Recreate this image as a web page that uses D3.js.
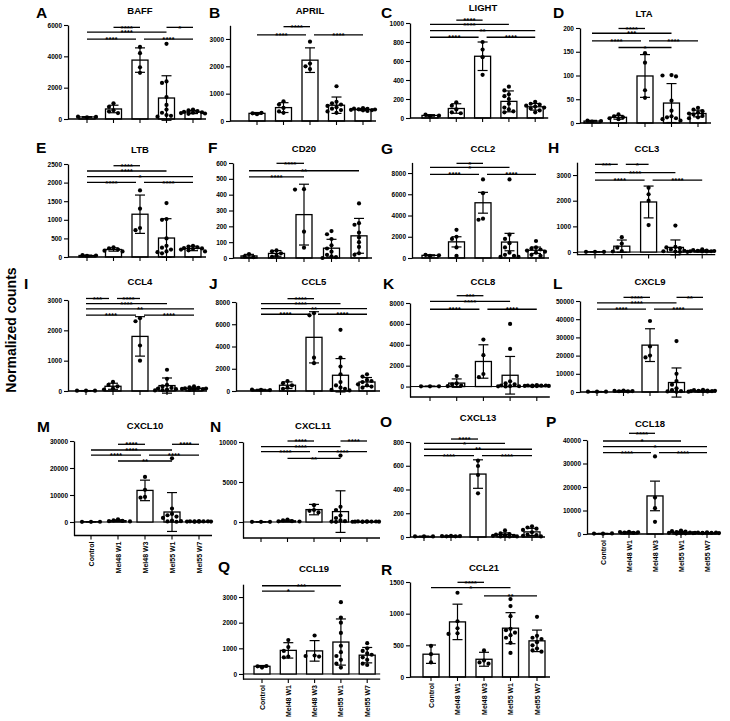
<!DOCTYPE html>
<html><head><meta charset="utf-8">
<script src="https://cdn.jsdelivr.net/npm/d3@7"></script>
<style>
body{margin:0;background:#fff}
text{font-family:"Liberation Sans",Arial,sans-serif;font-weight:bold;fill:#000}
</style>
</head><body><svg id="c" width="730" height="721"></svg>
<script>
// ---------------- DATA ----------------
const groups = ["Control","Mel48 W1","Mel48 W3","Mel55 W1","Mel55 W7"];
const panelLetters = ["A","B","C","D","E","F","G","H","I","J","K","L","M","N","O","P","Q","R"];
const geneNames = ["BAFF","APRIL","LIGHT","LTA","LTB","CD20","CCL2","CCL3","CCL4","CCL5","CCL8","CXCL9","CXCL10","CXCL11","CXCL13","CCL18","CCL19","CCL21"];

const yDomains = [
 [0,6000],[0,3500],[0,1000],[0,200],
 [0,2500],[0,600],[0,9000],[-100,3500],
 [0,3000],[0,8000],[-1000,8000],[0,50000],
 [-5000,30000],[-2000,10000],[0,800],[0,40000],
 [-200,3500],[0,1500]
];
const yTicks = [
 [0,2000,4000,6000],[0,1000,2000,3000],[0,200,400,600,800,1000],[0,50,100,150,200],
 [0,500,1000,1500,2000,2500],[0,100,200,300,400,500,600],[0,2000,4000,6000,8000],[0,1000,2000,3000],
 [0,1000,2000,3000],[0,2000,4000,6000,8000],[0,2000,4000,6000,8000],[0,10000,20000,30000,40000,50000],
 [0,10000,20000,30000],[0,5000,10000],[0,200,400,600,800],[0,10000,20000,30000,40000],
 [0,1000,2000,3000],[0,500,1000,1500]
];
const barMeans = [
 [130,640,3760,1340,445],[280,490,2225,577,420],[27,100,650,175,118],[4,12,99,42,20],
 [40,202,1150,510,230],[13,29,274,62,140],[250,1520,5200,1500,730],[10,228,1950,180,50],
 [10,156,1800,179,84],[100,520,4825,1415,811],[20,330,2400,1081,80],[200,520,25750,5210,667],
 [100,500,11700,3700,200],[20,150,1550,1300,50],[5,8,530,20,43],[200,700,16200,700,500],
 [300,920,900,1245,733],[360,870,280,771,571]
];
const barSD = [
 [20,240,780,1420,100],[30,180,450,300,40],[8,50,150,110,35],[1.5,4,45,41,7],
 [10,45,515,520,60],[10,18,192,56,110],[50,480,980,820,300],[5,240,620,290,30],
 [5,100,650,250,40],[50,300,2300,1500,400],[10,400,1600,1800,50],[100,300,9000,8000,300],
 [50,300,3800,7200,80],[10,100,650,2600,30],[2,3,120,15,30],[50,200,6300,400,100],
 [30,300,400,900,300],[145,280,110,245,170]
];
const points = [
 [[110,150,130],[1000,780,560,480,380],[4600,4200,3300,2950],[4800,2400,2300,1400,900,600,400,250,200,150],[600,550,500,450,430,400,380,350,330]],
 [[250,280,300],[720,600,480,350,300],[2900,2100,2000,1900],[1270,700,650,600,550,500,450,400,350,300],[470,450,440,430,420,410,400,390,370]],
 [[20,35,25],[165,130,90,60,50],[800,720,640,455],[330,290,250,230,200,150,110,90,70,60],[170,150,140,130,120,110,100,80,60]],
 [[3,5,4],[18,14,12,10,8],[147,127,69,53],[101,100,98,47,26,14,12,10,8,5],[32,28,25,22,20,18,15,12,10]],
 [[30,50,40],[260,230,200,170,150],[1790,1300,780,720],[1450,1020,1000,500,300,250,200,150,130,100],[300,280,260,240,230,220,200,180,150]],
 [[25,10,5],[48,42,30,15,8],[435,432,166,65],[170,150,120,80,60,40,20,10,5,0],[345,220,210,160,130,100,70,30,20]],
 [[200,300,250],[2650,2000,1800,1000,200],[7400,6100,3700,3600],[7400,2200,1800,1400,1000,500,300,200,100,100],[1600,1000,900,800,700,600,500,300,200]],
 [[10,10,10],[580,330,170,40,20],[2500,2250,2000,1050],[1030,200,180,150,100,50,30,20,10,10],[100,80,60,50,40,30,30,20,20]],
 [[10,10,10],[300,200,150,80,50],[2400,2300,1500,1000],[700,400,200,150,100,80,60,50,30,20],[150,120,100,90,80,70,60,50,40]],
 [[100,120,80],[900,700,500,300,200],[7000,6800,3000,2500],[5500,3000,2200,1500,800,500,300,200,100,50],[1500,1300,1000,900,800,600,500,400,300]],
 [[20,20,20],[1000,300,200,100,50],[4500,3000,1200,900],[6000,3600,500,300,200,100,50,30,20,10],[150,100,100,80,80,60,60,50,40]],
 [[200,200,200],[800,600,500,400,300],[39000,25000,20000,19000],[28000,10000,6000,4000,2000,1000,500,300,200,100],[1200,1000,800,700,600,500,500,400,300]],
 [[50,80,100],[1000,600,400,300,200],[16700,11900,9300,9000],[23600,5000,3000,2500,2000,1500,500,300,200,100],[300,250,250,200,200,150,150,100,100]],
 [[20,20,20],[300,200,100,80,60],[2100,1500,1400,1200],[8300,1900,1500,800,500,200,100,50,30,20],[80,70,60,50,50,40,40,30,30]],
 [[5,5,5],[10,8,8,6,6],[643,598,522,368],[55,30,25,20,15,10,10,5,5,5],[90,80,70,60,40,20,15,10,5]],
 [[150,200,250],[900,800,700,600,500],[33000,15500,11000,5200],[1500,1200,1000,800,600,500,400,300,300,200],[700,600,550,500,500,450,400,400,350]],
 [[250,300,310],[1320,1050,900,680,650],[1500,720,700,680],[2800,2200,2000,1600,1100,850,700,550,400,250],[1200,1000,900,800,750,650,550,400,350]],
 [[490,360,230],[1330,880,770,690,680],[420,260,230,210],[1230,1120,960,760,740,700,660,620,540,380],[950,650,620,600,550,500,450,420,400]]
];
// significance brackets: [group i, group j, y value, label]
const sigBrackets = [
 [[1,2,5850,"****"],[3,4,5850,"*"],[0,3,5550,"****"],[0,2,5100,"****"],[2,4,5100,"****"]],
 [[1,2,3450,"****"],[0,2,3150,"****"],[2,4,3150,"****"]],
 [[1,2,1030,"****"],[0,3,986,"****"],[0,4,919,"**"],[0,2,850,"****"],[2,4,850,"****"]],
 [[1,2,199,"****"],[0,3,189,"***"],[0,2,173,"****"],[2,4,173,"****"],[1,3,159,"*"]],
 [[1,2,2454,"****"],[0,3,2312,"****"],[0,4,2160,"*"],[0,2,2007,"****"],[2,4,2007,"****"]],
 [[1,2,598,"****"],[0,4,551,"**"],[0,2,513,"****"]],
 [[1,2,8910,"*"],[0,3,8537,"*"],[0,2,7880,"****"],[2,4,7880,"****"]],
 [[0,1,3417,"***"],[1,2,3417,"*"],[0,3,3090,"****"],[0,2,2805,"****"],[2,4,2805,"****"]],
 [[0,1,3050,"***"],[1,2,3050,"****"],[0,3,2880,"****"],[0,4,2710,"**"],[0,2,2500,"****"],[2,4,2500,"****"]],
 [[1,2,8300,"****"],[0,3,7850,"****"],[0,4,7400,"**"],[0,2,6900,"****"],[2,4,6900,"****"]],
 [[1,2,8700,"***"],[0,3,8150,"****"],[0,2,7400,"****"],[2,4,7400,"****"]],
 [[1,2,52000,"****"],[3,4,52000,"**"],[0,3,49000,"****"],[0,2,45500,"****"],[2,4,45500,"****"]],
 [[1,2,28780,"****"],[3,4,28780,"****"],[0,3,26670,"****"],[0,2,24800,"****"],[2,4,24800,"****"],[1,3,22600,"**"]],
 [[1,2,10125,"****"],[3,4,10125,"****"],[0,3,9410,"****"],[0,2,8790,"****"],[2,4,8790,"****"],[1,3,7960,"**"]],
 [[1,2,825,"****"],[0,3,789,"*"],[0,4,739,"**"],[0,2,685,"****"],[2,4,685,"****"]],
 [[1,2,42850,"****"],[0,3,39570,"*"],[0,4,37150,"*"],[0,2,34600,"****"],[2,4,34600,"****"]],
 [[0,3,3440,"***"],[0,2,3230,"*"]],
 [[1,2,1495,"****"],[0,3,1410,"*"],[2,4,1280,"**"]]
];
const yAxisTitle = "Normalized counts";

// ---------------- LAYOUT ----------------
const layout = [
 {ax:68, x0:87, dx:26.5,yb:119,  yt:25,   tx:140,ty:14, lx:36, ly:18},
 {ax:230,x0:257,dx:26.5,yb:121,  yt:25.3, tx:310,ty:14, lx:209,ly:18},
 {ax:410,x0:430,dx:26.3,yb:118,  yt:23,   tx:483,ty:11, lx:381,ly:18},
 {ax:580,x0:592,dx:26.5,yb:123,  yt:28,   tx:644,ty:17, lx:553,ly:18},
 {ax:68, x0:87, dx:26.5,yb:257,  yt:164,  tx:140,ty:153,lx:36, ly:153},
 {ax:233,x0:249,dx:27.5,yb:258,  yt:163,  tx:304,ty:152,lx:208,ly:153},
 {ax:412,x0:430,dx:26.5,yb:258,  yt:162.4,tx:483,ty:152,lx:381,ly:154},
 {ax:577,x0:595,dx:26.8,yb:254.6,yt:162.2,tx:647,ty:152,lx:548,ly:153},
 {ax:68, x0:86, dx:27,  yb:391,  yt:300,  tx:140,ty:285,lx:24, ly:289},
 {ax:236,x0:261,dx:26.5,yb:391,  yt:302,  tx:314,ty:285,lx:209,ly:289},
 {ax:410,x0:430,dx:26.7,yb:397,  yt:303,  tx:483,ty:285,lx:383,ly:289},
 {ax:580,x0:597,dx:26.5,yb:392,  yt:301,  tx:650,ty:285,lx:553,ly:289},
 {ax:74, x0:91, dx:27,  yb:535.5,yt:441,  tx:145,ty:429,lx:37, ly:432,lab:true},
 {ax:243,x0:261,dx:26.5,yb:538,  yt:442,  tx:313,ty:429,lx:210,ly:432},
 {ax:410,x0:424,dx:27,  yb:537,  yt:442,  tx:478,ty:421,lx:380,ly:427},
 {ax:587,x0:603,dx:26,  yb:534,  yt:440,  tx:650,ty:427,lx:546,ly:427,lab:true},
 {ax:243,x0:262,dx:26.3,yb:679.1,yt:584.2,tx:314,ty:572,lx:218,ly:572,lab:true},
 {ax:410,x0:431,dx:26.5,yb:677,  yt:582,  tx:484,ty:571,lx:381,ly:575,lab:true}
];

const svg = d3.select("#c");
const fmt = d3.format("d");

function swarm(vals, y){
  const placed=[], out=[];
  const cands=[0,-4.5,4.5,-9,9,-12,12];
  vals.forEach(v=>{
    const py=y(v); let best=0, bestCost=Infinity;
    for(const c of cands){
      let cost=Math.abs(c)*0.02;
      for(const p of placed){ const d=Math.hypot(c-p[0],py-p[1]); if(d<4.6) cost+=(4.6-d)*2; }
      if(cost<bestCost){bestCost=cost;best=c;}
    }
    placed.push([best,py]); out.push(best);
  });
  return out;
}

panelLetters.forEach((L,k)=>{
  const lo = layout[k];
  const g = svg.append("g");
  const dom = yDomains[k];
  const y = d3.scaleLinear().domain(dom).range([lo.yb, lo.yt]);
  const x = d3.scalePoint().domain(groups).range([lo.x0, lo.x0+4*lo.dx]);
  const xEnd = lo.x0 + 4*lo.dx + 13;

  g.append("text").attr("x",lo.lx).attr("y",lo.ly).attr("font-size",15.5).text(L);
  g.append("text").attr("x",lo.tx).attr("y",lo.ty).attr("font-size",9.5).attr("text-anchor","middle").text(geneNames[k]);

  if(dom[0]<0){
    g.append("line").attr("x1",lo.ax).attr("x2",xEnd).attr("y1",y(0)).attr("y2",y(0)).attr("stroke","#000").attr("stroke-width",1);
  }

  const bw=16;
  groups.forEach((gr,i)=>{
    const m=barMeans[k][i];
    g.append("rect").attr("x",x(gr)-bw/2).attr("width",bw)
      .attr("y",Math.min(y(m),y(0))).attr("height",Math.abs(y(0)-y(m)))
      .attr("fill","#fff").attr("stroke","#000").attr("stroke-width",1.3);
  });
  groups.forEach((gr,i)=>{
    const m=barMeans[k][i], s=barSD[k][i], cx=x(gr);
    const y1=y(m-s), y2=y(m+s);
    g.append("line").attr("x1",cx).attr("x2",cx).attr("y1",y1).attr("y2",y2).attr("stroke","#000").attr("stroke-width",1.2);
    [y1,y2].forEach(yy=>g.append("line").attr("x1",cx-5).attr("x2",cx+5).attr("y1",yy).attr("y2",yy).attr("stroke","#000").attr("stroke-width",1.2));
  });
  groups.forEach((gr,i)=>{
    const vals=points[k][i]; const offs=swarm(vals,y);
    vals.forEach((v,j)=>{
      g.append("circle").attr("cx",x(gr)+offs[j]).attr("cy",y(v)).attr("r",2.1).attr("fill","#000");
    });
  });

  const ya = d3.axisLeft(y).tickValues(yTicks[k]).tickFormat(fmt).tickSize(4).tickPadding(2).tickSizeOuter(0);
  const yg = g.append("g").attr("transform",`translate(${lo.ax},0)`).call(ya);
  yg.select(".domain").attr("stroke-width",1.3);
  yg.selectAll(".tick line").attr("stroke-width",1.1);
  yg.selectAll("text").attr("font-size",6.5).style("font-family","'Liberation Sans',Arial,sans-serif").style("font-weight","bold");

  g.append("line").attr("x1",lo.ax).attr("x2",xEnd).attr("y1",lo.yb).attr("y2",lo.yb).attr("stroke","#000").attr("stroke-width",1.3);
  groups.forEach(gr=>{
    g.append("line").attr("x1",x(gr)).attr("x2",x(gr)).attr("y1",lo.yb).attr("y2",lo.yb+4).attr("stroke","#000").attr("stroke-width",1.1);
  });
  if(lo.lab){
    groups.forEach(gr=>{
      g.append("text").attr("transform",`translate(${x(gr)+2.5},${lo.yb+6}) rotate(-90)`)
        .attr("text-anchor","end").attr("font-size",7).text(gr);
    });
  }

  const br = sigBrackets[k];
  br.forEach(b=>{
    const [i,j,yv,lab]=b;
    let x1=x(groups[i]), x2=x(groups[j]);
    const shareL = br.some(o=>o!==b && o[2]===yv && o[1]===i);
    const shareR = br.some(o=>o!==b && o[2]===yv && o[0]===j);
    if(shareL) x1+=4; if(shareR) x2-=4;
    const yy=y(yv);
    g.append("line").attr("x1",x1).attr("x2",x2).attr("y1",yy).attr("y2",yy).attr("stroke","#000").attr("stroke-width",1.3);
    g.append("text").attr("x",(x1+x2)/2).attr("y",yy+3.2).attr("font-size",8).attr("text-anchor","middle").text(lab);
  });
});

svg.append("text").attr("transform","translate(16,330) rotate(-90)").attr("text-anchor","middle").attr("font-size",14).text(yAxisTitle);
</script>
</body></html>
